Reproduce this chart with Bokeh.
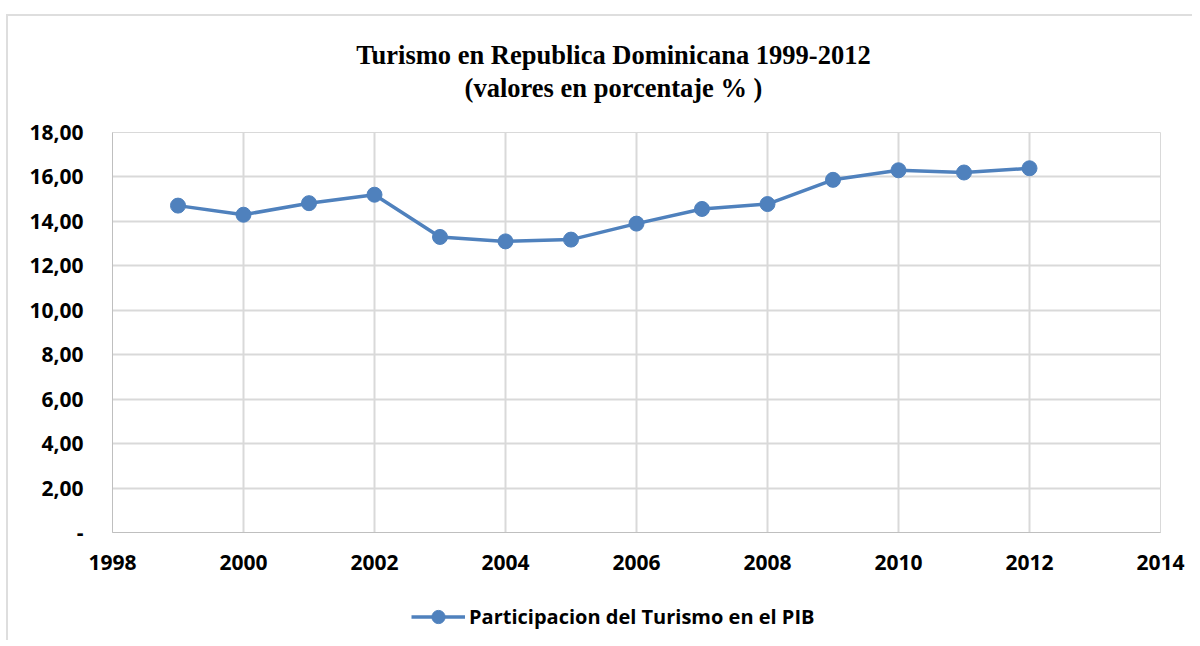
from bokeh.plotting import figure
from bokeh.models import Label, Legend, LegendItem, FixedTicker, Range1d
from bokeh.layouts import column
from bokeh.embed import file_html
from bokeh.resources import INLINE

years = [1999, 2000, 2001, 2002, 2003, 2004, 2005, 2006, 2007, 2008, 2009, 2010, 2011, 2012]
values = [14.71, 14.30, 14.82, 15.20, 13.30, 13.10, 13.18, 13.90, 14.56, 14.78, 15.87, 16.30, 16.20, 16.39]
x_ticks = [1998, 2000, 2002, 2004, 2006, 2008, 2010, 2012, 2014]
y_ticks = [0, 2, 4, 6, 8, 10, 12, 14, 16, 18]
y_labels = {0: "-", 2: "2,00", 4: "4,00", 6: "6,00", 8: "8,00", 10: "10,00",
            12: "12,00", 14: "14,00", 16: "16,00", 18: "18,00"}
title1 = "Turismo en Republica Dominicana 1999-2012"
title2 = "(valores en porcentaje % )"
series_name = "Participacion del Turismo en el PIB"

BLUE = "#4f81bd"
GRID = "#d9d9d9"
LABEL_FONT = "Open Sans"
W = 1184
BL, BR = 104, 32


def strip(height):
    f = figure(width=W, height=height, output_backend="svg", toolbar_location=None,
               min_border_left=BL, min_border_right=BR, min_border_top=0, min_border_bottom=0)
    f.axis.visible = False
    f.grid.visible = False
    f.outline_line_color = None
    f.background_fill_color = "white"
    f.border_fill_color = "white"
    return f


# ---- title strip (coordinates in page pixels) ----
top = strip(100)
top.x_range = Range1d(112, 1160)
top.y_range = Range1d(116, 16)
for txt, ty in ((title1, 54), (title2, 87)):
    top.add_layout(Label(x=613, y=ty, text=txt, text_align="center", text_baseline="alphabetic",
                         text_font="Liberation Serif", text_font_size="26.5px",
                         text_font_style="bold", text_color="black"))

# ---- main chart ----
p = figure(width=W, height=474, x_range=(1998, 2014), y_range=(0, 18),
           output_backend="svg", toolbar_location=None, title=None,
           min_border_left=BL, min_border_right=BR, min_border_top=16, min_border_bottom=58)
p.outline_line_color = GRID
p.background_fill_color = "white"
p.border_fill_color = "white"

for ax in (p.xaxis[0], p.yaxis[0]):
    ax.major_tick_line_color = None
    ax.minor_tick_line_color = None
    ax.axis_line_color = "#bfbfbf"
    ax.axis_line_width = 1
    ax.major_label_text_font = LABEL_FONT
    ax.major_label_text_font_style = "bold"
    ax.major_label_text_font_size = "21px"
    ax.major_label_text_color = "black"

p.xaxis[0].ticker = FixedTicker(ticks=x_ticks)
p.yaxis[0].ticker = FixedTicker(ticks=y_ticks)
p.yaxis[0].major_label_overrides = y_labels
p.xaxis[0].major_label_standoff = 16
p.yaxis[0].major_label_standoff = 23

p.xgrid.ticker = FixedTicker(ticks=x_ticks)
p.ygrid.ticker = FixedTicker(ticks=y_ticks)
p.xgrid.grid_line_color = GRID
p.ygrid.grid_line_color = GRID
p.xgrid.grid_line_width = 2
p.ygrid.grid_line_width = 2

p.line(years, values, line_color=BLUE, line_width=3.5)
p.scatter(years, values, size=15, fill_color=BLUE, line_color=BLUE)

# ---- legend strip ----
lg = strip(50)
lg.x_range = Range1d(0, 1)
lg.y_range = Range1d(0, 1)
# renderers kept outside the visible range; used only for the legend swatch
lln = lg.line([5, 6], [5, 6], line_color=BLUE, line_width=3.3)
lsc = lg.scatter([5], [5], size=13, fill_color=BLUE, line_color=BLUE)
legend = Legend(items=[LegendItem(label=series_name, renderers=[lln, lsc])],
                orientation="horizontal", location=(299, 7),
                label_text_font=LABEL_FONT, label_text_font_style="bold",
                label_text_font_size="20px", label_text_color="black",
                glyph_width=54, glyph_height=33, label_standoff=4,
                padding=2, margin=0,
                border_line_color=None, background_fill_alpha=0)
lg.add_layout(legend, "center")

layout = column(top, p, lg, spacing=0,
                styles={"border-top": "2px solid #dedede", "border-left": "2px solid #dedede",
                        "margin-top": "14px", "margin-left": "6px"})
open("out.html", "w").write(file_html(layout, INLINE))
